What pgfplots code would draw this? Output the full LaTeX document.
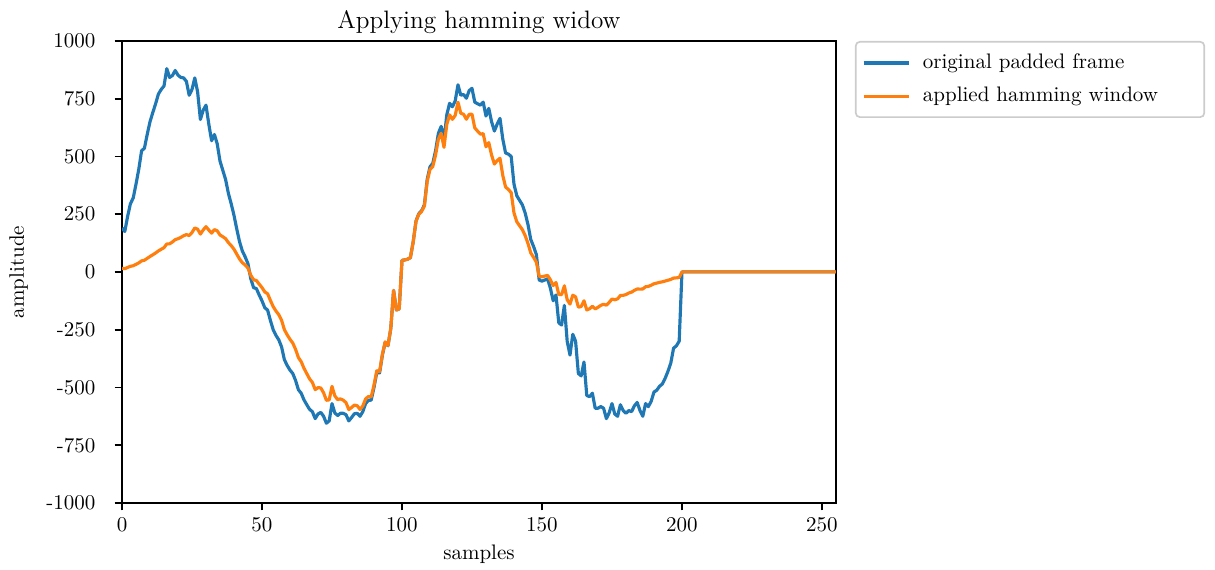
\documentclass[border=0pt]{standalone}
\usepackage{pgfplots}
\usepackage{pgfplotstable}
\pgfplotsset{compat=1.18}

\definecolor{mplblue}{HTML}{1F77B4}
\definecolor{mplorange}{HTML}{FF7F0E}
\definecolor{legendgray}{HTML}{CCCCCC}

% n: sample index, orig: padded frame, win: frame after the Hamming window
\pgfplotstableread{
n orig win
0 190 15.2
1 175 14.0
2 240 19.4
3 295 24.2
4 320 26.8
5 380 32.6
6 445 39.2
7 525 47.9
8 535 50.6
9 595 58.6
10 650 66.8
11 690 74.2
12 728 82.0
13 770 91.0
14 790 98.1
15 805 105.1
16 880 121.0
17 842 121.8
18 850 129.5
19 872 139.8
20 852 143.7
21 842 149.5
22 840 156.7
23 825 161.7
24 765 157.5
25 790 170.6
26 840 190.3
27 780 185.1
28 660 163.9
29 700 181.8
30 722 195.9
31 640 181.3
32 568 167.8
33 595 183.2
34 555 177.9
35 480 160.0
36 440 152.5
37 400 143.9
38 340 126.9
39 295 114.1
40 245 98.1
41 185 76.7
42 130 55.7
43 90 39.8
44 65 29.7
45 35 16.5
46 -30 -14.6
47 -68 -34.0
48 -72 -37.1
49 -100 -52.9
50 -125 -68.0
51 -155 -86.5
52 -165 -94.5
53 -210 -123.3
54 -250 -150.4
55 -275 -169.4
56 -294 -185.3
57 -325 -209.4
58 -380 -250.2
59 -405 -272.4
60 -425 -291.7
61 -440 -308.0
62 -470 -335.3
63 -510 -370.7
64 -525 -388.6
65 -554 -417.2
66 -575 -440.3
67 -595 -463.1
68 -605 -478.3
69 -635 -509.7
70 -615 -500.9
71 -608 -502.2
72 -625 -523.3
73 -655 -555.6
74 -645 -553.9
75 -570 -495.4
76 -610 -536.2
77 -622 -552.8
78 -612 -549.6
79 -612 -555.1
80 -618 -565.8
81 -645 -595.9
82 -630 -586.9
83 -614 -576.5
84 -612 -579.0
85 -625 -595.4
86 -605 -580.1
87 -570 -549.8
88 -556 -539.3
89 -555 -541.1
90 -500 -489.8
91 -435 -427.8
92 -437 -431.4
93 -360 -356.5
94 -305 -302.9
95 -320 -318.5
96 -245 -244.3
97 -80 -79.9
98 -165 -164.9
99 -160 -160.0
100 50 50.0
101 52 52.0
102 55 54.9
103 62 61.8
104 130 129.4
105 220 218.5
106 252 249.6
107 265 261.6
108 290 285.2
109 400 391.8
110 455 443.6
111 470 455.9
112 525 506.4
113 600 575.3
114 630 600.1
115 570 539.3
116 680 638.5
117 730 680.1
118 715 660.5
119 740 677.5
120 810 734.7
121 765 687.0
122 768 682.5
123 752 661.0
124 785 682.2
125 795 682.7
126 735 623.4
127 728 609.5
128 722 596.4
129 735 598.7
130 675 541.8
131 708 559.7
132 650 505.9
133 610 467.1
134 640 482.0
135 665 492.2
136 575 418.0
137 515 367.5
138 510 357.0
139 500 343.2
140 380 255.6
141 330 217.3
142 310 199.8
143 290 182.8
144 255 157.1
145 205 123.3
146 140 82.2
147 110 63.0
148 75 41.9
149 -35 -19.0
150 -40 -21.2
151 -35 -18.0
152 -30 -15.0
153 -70 -34.0
154 -125 -58.9
155 -100 -45.7
156 -220 -97.4
157 -230 -98.6
158 -145 -60.1
159 -300 -120.2
160 -360 -139.3
161 -270 -100.8
162 -300 -107.9
163 -440 -152.5
164 -450 -150.0
165 -390 -125.0
166 -535 -164.7
167 -540 -159.6
168 -525 -148.7
169 -590 -160.1
170 -590 -153.2
171 -583 -144.8
172 -590 -140.0
173 -635 -143.8
174 -610 -131.8
175 -570 -117.4
176 -615 -120.5
177 -625 -116.6
178 -575 -102.1
179 -600 -101.2
180 -612 -98.1
181 -600 -91.4
182 -605 -87.5
183 -580 -79.8
184 -565 -73.8
185 -600 -74.5
186 -625 -73.9
187 -570 -64.2
188 -583 -62.7
189 -560 -57.5
190 -520 -51.2
191 -512 -48.4
192 -495 -45.1
193 -485 -42.8
194 -460 -39.4
195 -430 -36.0
196 -395 -32.4
197 -330 -26.7
198 -320 -25.7
199 -300 -24.0
200 0 0
255 0 0
}\framedata

\begin{document}
\begin{tikzpicture}
\begin{axis}[
  name=main,
  scale only axis,
  width=340pt, height=220pt,
  xmin=0, xmax=255,
  ymin=-1000, ymax=1000,
  xtick={0,50,100,150,200,250},
  ytick={-1000,-750,-500,-250,0,250,500,750,1000},
  yticklabels={-1000,-750,-500,-250,0,250,500,750,1000},
  tick pos=left,
  tick align=outside,
  major tick length=3.5pt,
  every tick/.style={black, line width=0.8pt},
  axis line style={line width=0.8pt},
  tick label style={font=\normalsize},
  yticklabel style={xshift=-5.7pt},
  title={Applying hamming widow},
  every axis title/.style={font=\large, at={(0.5,1.026)}, anchor=base},
  xlabel={samples},
  xlabel style={at={(0.5,-0.1227)}, anchor=base},
  ylabel={amplitude},
  ylabel style={at={(-0.1374,0.5)}, anchor=base},
  legend style={
    at={(1.0265,1.0)}, anchor=north west,
    draw=legendgray, line width=0.8pt, rounded corners=2pt,
    fill=white, font=\normalsize,
    row sep=3.3pt, inner xsep=3pt, inner ysep=3.8pt,
  },
  legend cell align=left,
  legend image code/.code={\draw[#1, line width=1.5pt] (-1pt,0pt) -- (20.5pt,0pt);},
]
\addplot[mplblue, line width=1.5pt, line join=round] table[x=n, y=orig] {\framedata};
\addlegendentry{\makebox[133pt][l]{\hspace{4pt}original padded frame}}
\addplot[mplorange, line width=1.5pt, line join=round] table[x=n, y=win] {\framedata};
\addlegendentry{\makebox[133pt][l]{\hspace{4pt}applied hamming window}}
\end{axis}
\pgfresetboundingbox
\path ([shift={(-58.1pt,-31.9pt)}]main.south west) rectangle ([shift={(180.5pt,19.5pt)}]main.north east);
\end{tikzpicture}
\end{document}
